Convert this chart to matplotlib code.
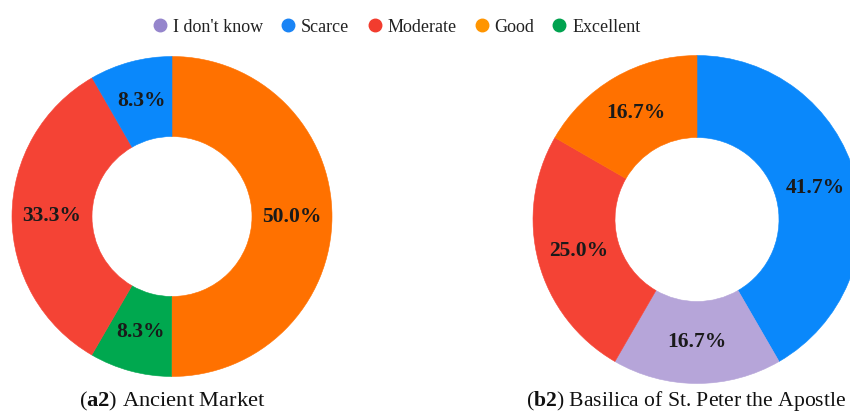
import matplotlib.pyplot as plt
from matplotlib.lines import Line2D

plt.rcParams['font.family'] = ['Liberation Serif', 'DejaVu Serif']
plt.rcParams['mathtext.fontset'] = 'custom'
plt.rcParams['mathtext.rm'] = 'Liberation Serif'
plt.rcParams['mathtext.bf'] = 'Liberation Serif:bold'

# legend order
categories = ["I don't know", "Scarce", "Moderate", "Good", "Excellent"]
cat_colors = {
    "I don't know": '#b6a5d9',
    "Scarce": '#0a88fb',
    "Moderate": '#f44335',
    "Good": '#ff7100',
    "Excellent": '#00a84f',
}
legend_colors = ['#9585cc', '#1a84f5', '#f23c2e', '#ff9500', '#00a24f']

# slices, clockwise from the top
a2_cats = ["Good", "Excellent", "Moderate", "Scarce"]
a2_vals = [50.0, 8.3, 33.3, 8.3]
b2_cats = ["Scarce", "I don't know", "Moderate", "Good"]
b2_vals = [41.7, 16.7, 25.0, 16.7]

captions = [r"($\mathbf{a2}$) Ancient Market",
            r"($\mathbf{b2}$) Basilica of St. Peter the Apostle"]

W, H = 850, 413
fig = plt.figure(figsize=(W / 100, H / 100), dpi=100)


def donut(cx, cy, r, cats, vals):
    ax = fig.add_axes([(cx - r) / W, (H - cy - r) / H, 2 * r / W, 2 * r / H])
    pct = iter(vals)
    wedges, _, _ = ax.pie(vals, colors=[cat_colors[c] for c in cats], startangle=90,
                          counterclock=False, radius=1.0,
                          wedgeprops=dict(width=0.5, linewidth=0.4),
                          autopct=lambda p: f'{next(pct):.1f}%', pctdistance=0.75,
                          textprops=dict(fontsize=15.5, fontweight='bold', color='#1a1a1a'))
    for w in wedges:
        w.set_edgecolor(w.get_facecolor())
    ax.set_xlim(-1, 1)
    ax.set_ylim(-1, 1)
    ax.set_aspect('auto')
    ax.axis('off')
    return ax


donut(172, 216.5, 160, a2_cats, a2_vals)
donut(697, 219.5, 164, b2_cats, b2_vals)

fig.text(172 / W, 1 - 401 / H, captions[0], ha='center', va='center',
         fontsize=16.2, color='#111111')
fig.text(846 / W, 1 - 401 / H, captions[1], ha='right', va='center',
         fontsize=15.6, color='#111111')

handles = [Line2D([], [], linestyle='none', marker='o', markersize=9,
                  markerfacecolor=c, markeredgecolor=c) for c in legend_colors]
fig.legend(handles, categories, loc='center', bbox_to_anchor=(395 / W, 1 - 27 / H),
           ncol=5, frameon=False, fontsize=13, handletextpad=0.1,
           columnspacing=0.8, handlelength=1.2, labelcolor='#222222')

fig.savefig('out.png', dpi=100)
